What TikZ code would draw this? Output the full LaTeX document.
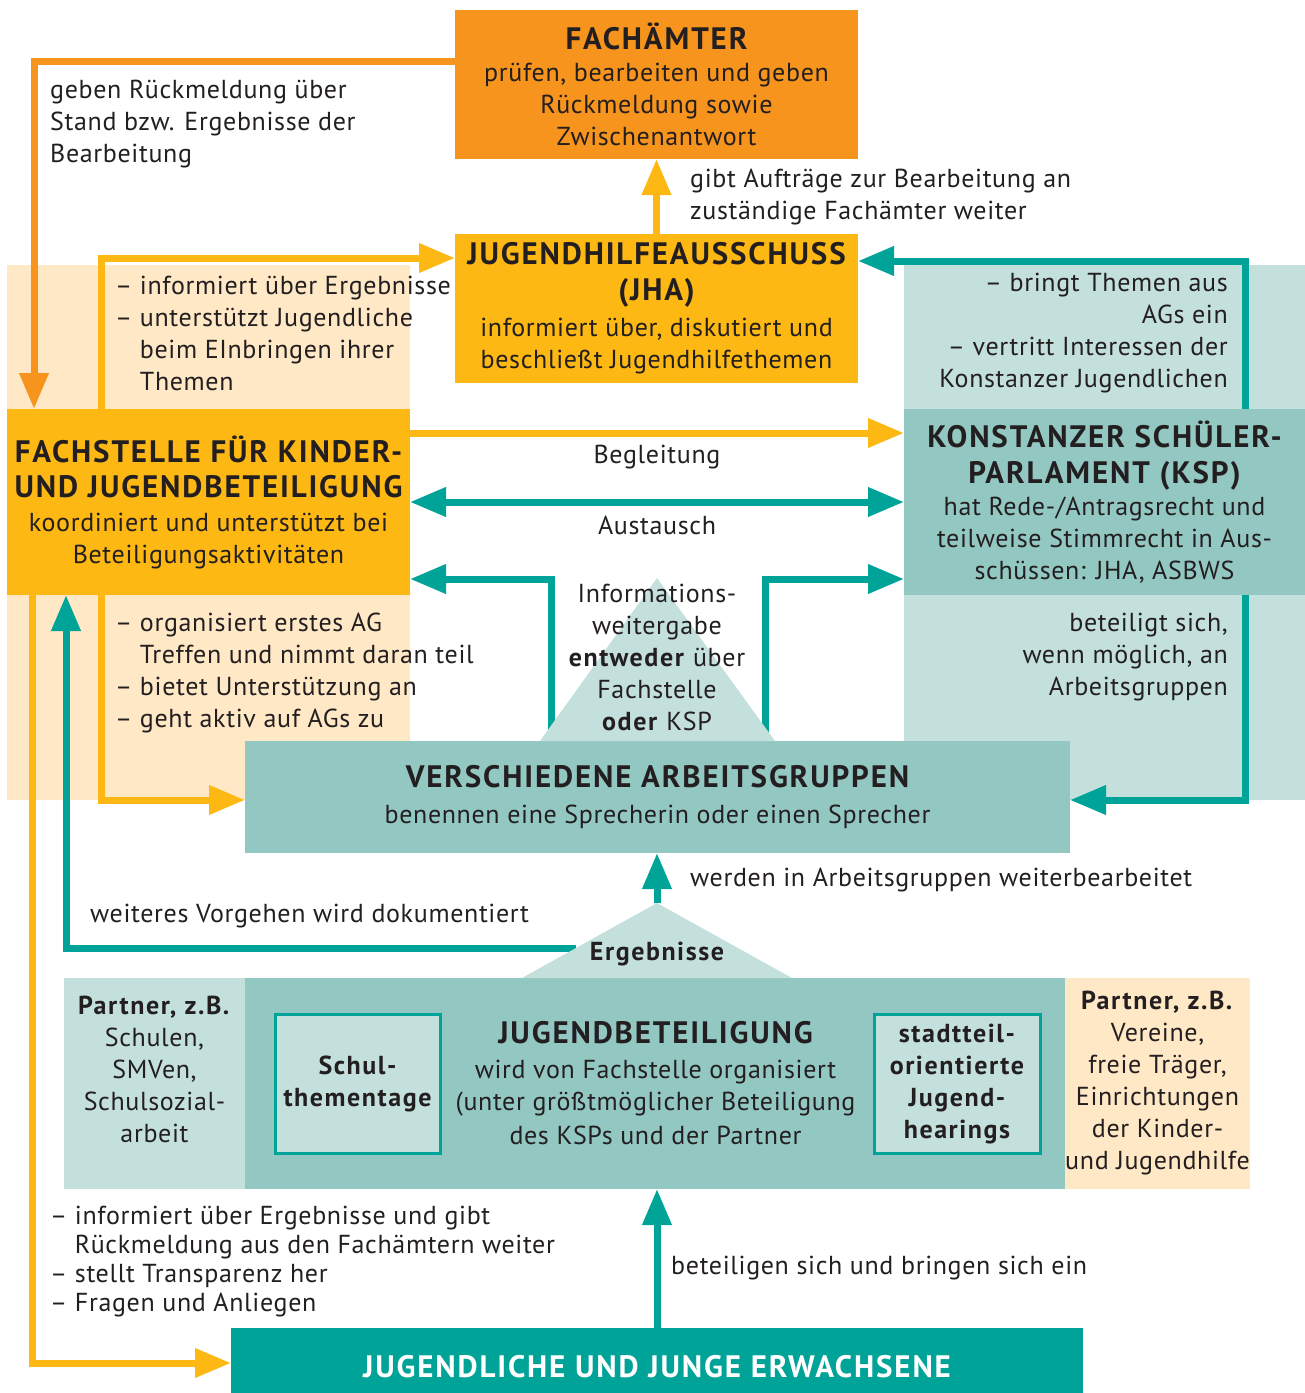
\documentclass[tikz,border=0pt]{standalone}
\usepackage{fontspec}
\setmainfont{PT Sans}[LetterSpace=2.5, BoldFeatures={LetterSpace=6}]
\usepackage{tikz}
\usetikzlibrary{arrows.meta,positioning}
\definecolor{fachorange}{HTML}{F7941D}
\definecolor{amber}{HTML}{FDB813}
\definecolor{tealdark}{HTML}{00A398}
\definecolor{tealmid}{HTML}{93C8C2}
\definecolor{teallight}{HTML}{C4E0DC}
\definecolor{orangelight}{HTML}{FFE8C5}
\definecolor{ink}{HTML}{231F20}
\newcommand{\bodyfont}{\fontsize{26}{32}\selectfont}
\newcommand{\headfont}{\fontsize{31}{36}\selectfont\bfseries}

\begin{document}
\begin{tikzpicture}[x=1pt,y=-1pt,
	box/.style={rectangle,inner sep=0pt,outer sep=0pt,align=center,text=ink,font=\bodyfont},
	lbl/.style={inner sep=0pt,text=ink,font=\bodyfont},
	line/.style={line width=7pt},
	tip/.style={-{Triangle[length=36pt,width=28pt]}}]
	\useasboundingbox (0,0) rectangle (1305,1393);
	\fill[orangelight] (7,265) rectangle (410,800);
	\fill[teallight] (904,265) rectangle (1305,800);

	\node (fa) [box, fill=fachorange, minimum width=403, minimum height=149] at (656.5,84.5)
		{{\headfont FACHÄMTER}\\prüfen, bearbeiten und geben\\Rückmeldung sowie\\Zwischenantwort};
	\node (jha) [box, fill=amber, minimum width=403, minimum height=149] at (656.5,308.5)
		{{\headfont JUGENDHILFEAUSSCHUSS}\\[4pt]{\headfont (JHA)}\\[4pt]informiert über, diskutiert und\\beschließt Jugendhilfethemen};
	\node (fs) [box, fill=amber, minimum width=403, minimum height=186] at (208.5,502)
		{{\headfont FACHSTELLE FÜR KINDER-}\\[3pt]{\headfont UND JUGENDBETEILIGUNG}\\[2pt]koordiniert und unterstützt bei\\Beteiligungsaktivitäten};
	\node (ksp) [box, fill=tealmid, minimum width=401, minimum height=186] at (1104.5,502)
		{{\headfont KONSTANZER SCHÜLER-}\\[4pt]{\headfont PARLAMENT (KSP)}\\hat Rede-/Antragsrecht und\\teilweise Stimmrecht in Aus-\\schüssen: JHA, ASBWS};
	\node (ag) [box, fill=tealmid, minimum width=825, minimum height=112] at (657.5,797)
		{{\headfont VERSCHIEDENE ARBEITSGRUPPEN}\\[4pt]benennen eine Sprecherin oder einen Sprecher};
	\node (pl) [box, fill=teallight, minimum width=181, minimum height=211] at (154.5,1083.5) {};
	\node (jb) [box, fill=tealmid, minimum width=821, minimum height=211] at (655.5,1083.5)
		{{\headfont JUGENDBETEILIGUNG}\\[3pt]wird von Fachstelle organisiert\\(unter größtmöglicher Beteiligung\\[2pt]des KSPs und der Partner};
	\node (pr) [box, fill=orangelight, minimum width=183, minimum height=211] at (1157.5,1083.5)
		{\textbf{Partner, z.B.}\\Vereine,\\freie Träger,\\Einrichtungen\\der Kinder-\\und Jugendhilfe};
	\node (st) [box, fill=teallight, draw=tealdark, line width=3pt, minimum width=165, minimum height=139, font=\bodyfont\bfseries] at (357.5,1083.5)
		{Schul-\\thementage};
	\node (sh) [box, fill=teallight, draw=tealdark, line width=3pt, minimum width=166, minimum height=139, font=\bodyfont\bfseries] at (957,1083.5)
		{stadtteil-\\orientierte\\Jugend-\\hearings};
	\node (jy) [box, fill=tealdark, minimum width=852, minimum height=77, text=white, font=\headfont] at (657,1366.5)
		{JUGENDLICHE UND JUNGE ERWACHSENE};

	\coordinate (ergtop) at (657,903);
	\coordinate (ergleft) at (576,948);

	\draw[line, fachorange, tip] ([yshift=23.5pt]fa.west) -| ([xshift=27pt]fs.north west);
	\draw[line, amber, tip] ([xshift=94pt]fs.north west) |- ([yshift=50.5pt]jha.west);
	\draw[line, amber, tip] (jha.north) -- (fa.south);
	\draw[line, tealdark, tip] ([xshift=-60pt]ksp.north east) |- ([yshift=47.5pt]jha.east);
	\draw[line, amber, tip] ([yshift=69pt]fs.east) -- ([yshift=69pt]ksp.west);
	\draw[line, tealdark, {Triangle[length=36pt,width=28pt]}-{Triangle[length=36pt,width=28pt]}] (fs.east) -- (ksp.west);
	\draw[line, tealdark, tip] ([xshift=-106.5pt]ag.north) |- ([yshift=-77pt]fs.east);
	\draw[line, tealdark, tip] ([xshift=107.5pt]ag.north) |- ([yshift=-77pt]ksp.west);
	\draw[line, tealdark, tip] ([xshift=-60pt]ksp.south east) |- ([yshift=-3pt]ag.east);
	\draw[line, amber, tip] ([xshift=94pt]fs.south west) |- ([yshift=-3pt]ag.west);
	\draw[line, tealdark, tip] (ergleft) -| ([xshift=59pt]fs.south west);
	\draw[line, amber, tip] ([xshift=25pt]fs.south west) |- ([yshift=3.5pt]jy.west);
	\draw[line, tealdark, tip] (jy.north) -- (jy.north |- jb.south);
	\draw[line, tealdark, tip] (ergtop) -- (ergtop |- ag.south);

	\fill[teallight] (540,741) -- (657,578) -- (775,741) -- cycle;
	\fill[teallight] (522,978) -- (ergtop) -- (792,978) -- cycle;

	\node (info) [lbl, align=center] at (657,657)
		{Informations-\\weitergabe\\\textbf{entweder} über\\Fachstelle\\\textbf{oder} KSP};
	\node (erg) [lbl, font=\bodyfont\bfseries] at (657,954) {Ergebnisse};
	\node (partl) [lbl, align=center] at (154.5,1069)
		{\textbf{Partner, z.B.}\\Schulen,\\SMVen,\\Schulsozial-\\arbeit};
	\node (rueck) [lbl, anchor=west, align=left] at (50,124)
		{geben Rückmeldung über\\Stand bzw. Ergebnisse der\\Bearbeitung};
	\node (auftr) [lbl, anchor=west, align=left] at (690,197)
		{gibt Aufträge zur Bearbeitung an\\zuständige Fachämter weiter};
	\node (fsoben) [lbl, anchor=west, align=left] at (115,333)
		{– informiert über Ergebnisse\\– unterstützt Jugendliche\\\phantom{– }beim EInbringen ihrer\\\phantom{– }Themen};
	\node (kspoben) [lbl, anchor=east, align=right] at (1228,333)
		{– bringt Themen aus\\AGs ein\\– vertritt Interessen der\\Konstanzer Jugendlichen};
	\node (begl) [lbl] at (657,457) {Begleitung};
	\node (aust) [lbl] at (657,525) {Austausch};
	\node (fsunten) [lbl, anchor=west, align=left] at (115,673)
		{– organisiert erstes AG\\\phantom{– }Treffen und nimmt daran teil\\– bietet Unterstützung an\\– geht aktiv auf AGs zu};
	\node (kspunten) [lbl, anchor=east, align=right] at (1228,657)
		{beteiligt sich,\\wenn möglich, an\\Arbeitsgruppen};
	\node (weiter) [lbl, anchor=west] at (690,880) {werden in Arbeitsgruppen weiterbearbeitet};
	\node (doku) [lbl, anchor=west] at (90,916) {weiteres Vorgehen wird dokumentiert};
	\node (jyoben) [lbl, anchor=west, align=left, font=\fontsize{26}{29}\selectfont] at (50,1262)
		{– informiert über Ergebnisse und gibt\\\phantom{– }Rückmeldung aus den Fachämtern weiter\\– stellt Transparenz her\\– Fragen und Anliegen};
	\node (betei) [lbl, anchor=west] at (671,1268) {beteiligen sich und bringen sich ein};
\end{tikzpicture}
\end{document}
